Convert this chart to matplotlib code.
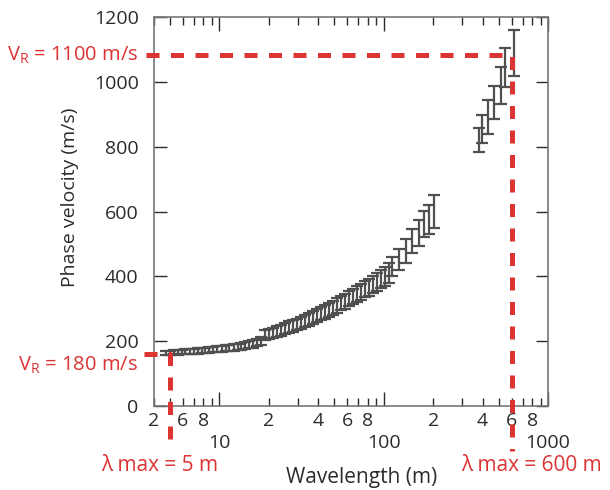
import matplotlib
matplotlib.use('Agg')
import matplotlib.pyplot as plt
from matplotlib.ticker import FixedLocator, FuncFormatter

plt.rcParams['font.family'] = ['Open Sans', 'DejaVu Sans']
plt.rcParams['mathtext.fontset'] = 'custom'
plt.rcParams['mathtext.rm'] = 'Open Sans'

# dense part of the dispersion curve (short wavelengths)
wl_short = [4.7, 5.0, 5.3, 5.6, 5.9, 6.2, 6.6, 7.0, 7.4, 7.8, 8.2, 8.7, 9.2, 9.7,
            10.3, 10.9, 11.5, 12.2, 12.9, 13.6, 14.4, 15.2, 16.1, 17.0, 18.0]
v_short = [164, 165, 166, 166, 167, 168, 168, 169, 170, 171, 172, 173, 174, 175,
           176, 178, 179, 181, 182, 184, 186, 189, 192, 196, 201]
err_short = [6, 6, 6, 7, 7, 7, 7, 7, 8, 8, 8, 8, 8, 9, 9, 9, 9, 10, 10, 10,
             11, 11, 12, 12, 13]

wl_mid = [19.0, 20.1, 21.2, 22.5, 23.8, 25.1, 26.6, 28.1, 29.7, 31.4, 33.2, 35.1,
          37.1, 39.3, 41.5, 43.9, 46.4, 49.1, 51.9, 54.9, 58.0, 61.4, 64.9, 68.6,
          72.5, 76.7, 81.1, 85.8, 90.7, 95.9, 101.4]
v_mid = [219, 222, 226, 230, 234, 238, 243, 248, 252, 257, 262, 267, 273, 279,
         285, 291, 297, 303, 310, 317, 324, 331, 338, 345, 353, 360, 367, 375,
         383, 391, 400]
err_mid = [15, 15, 16, 16, 17, 17, 18, 18, 18, 19, 19, 19, 20, 20, 20, 21, 21,
           21, 22, 22, 23, 23, 24, 24, 25, 25, 26, 26, 27, 28, 29]

# sparse long-wavelength picks
wl_long = [108, 113, 124, 136, 148, 165, 175, 188, 202,
           378, 396, 433, 469, 514, 549, 625]
v_long = [411, 431, 453, 479, 508, 534, 562, 576, 600,
          822, 855, 893, 937, 990, 1045, 1090]
err_long = [31, 29, 32, 37, 37, 40, 40, 44, 51,
            37, 43, 52, 51, 57, 60, 71]

# annotation values
lam_min, lam_max = 5, 600
vr_low, vr_high = 160, 1085

minor_labels = {4: '2', 6: '6', 8: '8', 20: '2', 40: '4', 60: '6', 80: '8',
                200: '2', 400: '4', 600: '6', 800: '8'}

red = '#dc3333'
grey = '#505050'
txt = '#2b2b2b'

fig = plt.figure(figsize=(6.1, 4.9), dpi=100)
ax = fig.add_axes([0.2525, 0.1714, 0.6459, 0.7933])

for wl, v, e in [(wl_short, v_short, err_short), (wl_mid, v_mid, err_mid),
                 (wl_long, v_long, err_long)]:
    ax.errorbar(wl, v, yerr=e, fmt='none', ecolor=grey, elinewidth=1.6,
                capsize=4.5, capthick=1.6, zorder=3)

ax.set_xscale('log')
ax.set_xlim(4.0, 1000)
ax.set_ylim(0, 1200)
ax.set_yticks(range(0, 1201, 200))

ax.xaxis.set_major_locator(FixedLocator([10, 100, 1000]))
ax.xaxis.set_major_formatter(FuncFormatter(lambda x, p: f'{int(round(x))}'))
minor_pos = [m * d for d in (1, 10, 100) for m in range(2, 10) if m * d >= 4]
ax.xaxis.set_minor_locator(FixedLocator(minor_pos))
ax.xaxis.set_minor_formatter(FuncFormatter(
    lambda x, p: minor_labels.get(int(round(x)), '')))

ax.tick_params(axis='y', which='both', direction='in', left=True, right=True,
               length=9, width=1, labelsize=14, pad=11, colors=txt)
ax.tick_params(axis='x', which='major', direction='in', top=True, bottom=True,
               length=10, width=1, labelsize=14, pad=20, colors=txt)
ax.tick_params(axis='x', which='minor', direction='in', top=True, bottom=True,
               length=6, width=1, labelsize=14, pad=4, colors=txt)
for s in ax.spines.values():
    s.set_color('#777777')
    s.set_linewidth(1.2)

# red guide lines for the velocity / wavelength limits
ax.plot([3.5, lam_min, lam_min], [vr_low, vr_low, -125], color=red, lw=3.6,
        dashes=[2.6, 2.3], clip_on=False, zorder=4, solid_capstyle='butt')
ax.plot([3.56, lam_max, lam_max], [vr_high, vr_high, -138], color=red, lw=3.6,
        dashes=[2.6, 2.3], clip_on=False, zorder=4, solid_capstyle='butt')

fig.text(0.2262, 0.8878, r'V$_\mathregular{R}$ = 1100 m/s', color=red,
         fontsize=14.5, ha='right', va='center')
fig.text(0.2262, 0.2551, r'V$_\mathregular{R}$ = 180 m/s', color=red,
         fontsize=14.5, ha='right', va='center')
fig.text(0.2623, 0.049, 'λ max = 5 m', color=red, fontsize=15,
         ha='center', va='center')
fig.text(0.8705, 0.049, 'λ max = 600 m', color=red, fontsize=15,
         ha='center', va='center')

fig.text(0.5934, 0.0245, 'Wavelength (m)', color=txt, fontsize=15,
         ha='center', va='center')
fig.text(0.1148, 0.598, 'Phase velocity (m/s)', color=txt, fontsize=14,
         ha='center', va='center', rotation=90)

fig.savefig('out.png', dpi=100)
